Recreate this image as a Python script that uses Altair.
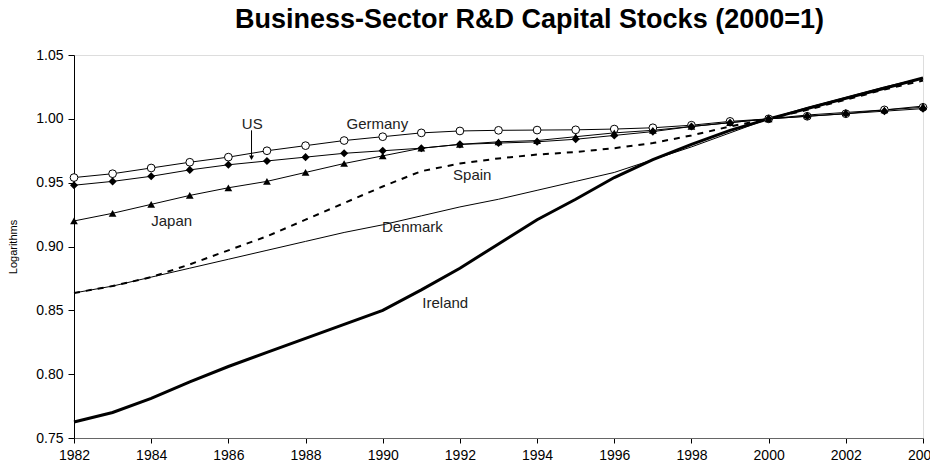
import altair as alt
import pandas as pd

years = list(range(1982, 2005))

germany = [0.954, 0.957, 0.9615, 0.966, 0.970, 0.975, 0.979, 0.983, 0.986, 0.989, 0.9905, 0.991,
           0.9912, 0.9914, 0.992, 0.993, 0.995, 0.998, 1.000, 1.002, 1.004, 1.007, 1.009]
us = [0.948, 0.951, 0.955, 0.960, 0.964, 0.967, 0.970, 0.973, 0.975, 0.977, 0.980, 0.981,
      0.982, 0.984, 0.987, 0.990, 0.994, 0.997, 1.000, 1.002, 1.004, 1.006, 1.008]
japan = [0.920, 0.926, 0.933, 0.940, 0.946, 0.951, 0.958, 0.965, 0.971, 0.977, 0.980, 0.982,
         0.983, 0.986, 0.989, 0.991, 0.994, 0.997, 1.000, 1.003, 1.005, 1.007, 1.010]
spain = [0.8636, 0.869, 0.876, 0.886, 0.897, 0.908, 0.921, 0.934, 0.947, 0.959, 0.965, 0.969,
         0.972, 0.974, 0.977, 0.981, 0.987, 0.994, 1.000, 1.007, 1.015, 1.023, 1.030]
denmark = [0.8636, 0.869, 0.876, 0.883, 0.890, 0.897, 0.904, 0.911, 0.917, 0.924, 0.931, 0.937,
           0.944, 0.951, 0.958, 0.968, 0.978, 0.989, 1.000, 1.009, 1.017, 1.025, 1.032]
ireland = [0.7625, 0.770, 0.781, 0.794, 0.806, 0.817, 0.828, 0.839, 0.850, 0.866, 0.883, 0.902,
           0.921, 0.937, 0.954, 0.968, 0.980, 0.991, 1.000, 1.008, 1.016, 1.024, 1.032]

series = {"Germany": germany, "US": us, "Japan": japan, "Spain": spain,
          "Denmark": denmark, "Ireland": ireland}

label_names = ["US", "Germany", "Spain", "Japan", "Denmark", "Ireland"]
label_years = [1986.62, 1989.86, 1992.32, 1984.53, 1990.77, 1991.62]
label_values = [0.996, 0.996, 0.956, 0.920, 0.915, 0.856]

arrow_year = [1986.6]
arrow_top = [0.991]
arrow_bottom = [0.9695]

rows = []
for name, vals in series.items():
    for y, v in zip(years, vals):
        rows.append({"year": y, "value": v, "country": name})
df = pd.DataFrame(rows)

labels_df = pd.DataFrame({"label": label_names, "year": label_years, "value": label_values})
arrow_df = pd.DataFrame({"year": arrow_year, "top": arrow_top, "bottom": arrow_bottom})

FONT = "Liberation Sans"

xscale = alt.Scale(domain=[1982, 2004], nice=False, zero=False)
yscale = alt.Scale(domain=[0.75, 1.05], nice=False, zero=False)

xenc = alt.X("year:Q", scale=xscale,
             axis=alt.Axis(values=list(range(1982, 2005, 2)), format="d", title=None,
                           grid=False, labelFont=FONT, labelFontSize=14, labelColor="#000",
                           domainColor="#666", tickColor="#000", tickSize=5, labelPadding=5,
                           labelFlush=False))
yenc = alt.Y("value:Q", scale=yscale,
             axis=alt.Axis(values=[0.75, 0.80, 0.85, 0.90, 0.95, 1.00, 1.05], format=".2f",
                           title="Logarithms", titleFont=FONT, titleFontSize=11,
                           titleFontWeight="normal", titleColor="#000", titlePadding=17,
                           grid=False, labelFont=FONT, labelFontSize=14, labelColor="#000",
                           domainColor="#000", tickColor="#000", tickSize=6, labelPadding=5))

base = alt.Chart(df)


def sel(name):
    return base.transform_filter(alt.datum.country == name)


germany_line = sel("Germany").mark_line(color="black", strokeWidth=1).encode(x=xenc, y=yenc)
germany_pts = sel("Germany").mark_point(shape="circle", size=60, filled=True, fill="white",
                                         stroke="black", strokeWidth=1, opacity=1).encode(x=xenc, y=yenc)
us_line = sel("US").mark_line(color="black", strokeWidth=1).encode(x=xenc, y=yenc)
us_pts = sel("US").mark_point(shape="diamond", size=65, filled=True, color="black",
                              opacity=1).encode(x=xenc, y=yenc)
japan_line = sel("Japan").mark_line(color="black", strokeWidth=1).encode(x=xenc, y=yenc)
japan_pts = sel("Japan").mark_point(shape="triangle-up", size=60, filled=True, color="black",
                                    opacity=1).encode(x=xenc, y=yenc)
spain_line = sel("Spain").mark_line(color="black", strokeWidth=2, strokeDash=[6, 6]).encode(x=xenc, y=yenc)
denmark_line = sel("Denmark").mark_line(color="black", strokeWidth=1).encode(x=xenc, y=yenc)
ireland_line = sel("Ireland").mark_line(color="black", strokeWidth=3).encode(x=xenc, y=yenc)

texts = alt.Chart(labels_df).mark_text(font=FONT, fontSize=15, color="#222",
                                       align="center", baseline="middle").encode(
    x=alt.X("year:Q", scale=xscale), y=alt.Y("value:Q", scale=yscale), text="label:N")

arrow_line = alt.Chart(arrow_df).mark_rule(color="black", strokeWidth=1).encode(
    x=alt.X("year:Q", scale=xscale), y=alt.Y("top:Q", scale=yscale), y2="bottom:Q")
arrow_head = alt.Chart(arrow_df).mark_point(shape="triangle-down", size=25, filled=True,
                                            color="black", opacity=1).encode(
    x=alt.X("year:Q", scale=xscale), y=alt.Y("bottom:Q", scale=yscale))

chart = alt.layer(
    ireland_line, denmark_line, spain_line,
    japan_line, us_line, germany_line,
    germany_pts, japan_pts, us_pts,
    texts, arrow_line, arrow_head,
).properties(
    width=849, height=383,
    autosize=alt.AutoSizeParams(type="none"),
    padding={"left": 66, "top": 47, "right": 7, "bottom": 24},
    title=alt.TitleParams("Business-Sector R&D Capital Stocks (2000=1)", font=FONT,
                          fontSize=27, fontWeight="bold", color="#000", anchor="middle",
                          dx=31, offset=14),
).configure_view(stroke=None).configure(background="white")

chart.save("out.html", embed_options={"renderer": "svg", "actions": False})
